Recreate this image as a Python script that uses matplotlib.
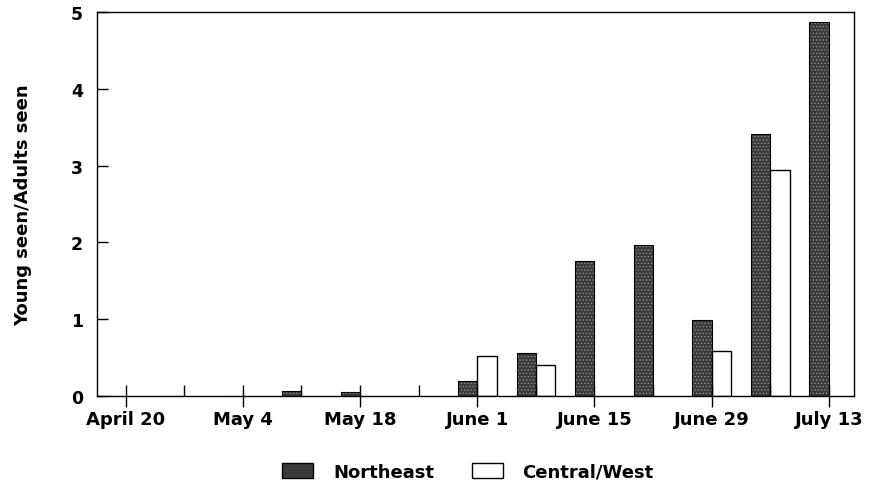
import matplotlib
matplotlib.use("Agg")
import matplotlib.pyplot as plt
from matplotlib.patches import Patch
import numpy as np

weeks = ["April 20", "April 27", "May 4", "May 11", "May 18", "May 25", "June 1",
         "June 8", "June 15", "June 22", "June 29", "July 6", "July 13"]
northeast = [0, 0, 0, 0.07, 0.05, 0, 0.20, 0.56, 1.76, 1.96, 0.99, 3.41, 4.87]
central_west = [0, 0, 0, 0, 0, 0, 0.52, 0.40, 0, 0, 0.58, 2.94, 0]
tick_labels = ["April 20", "May 4", "May 18", "June 1", "June 15", "June 29", "July 13"]

plt.rcParams['font.family'] = ['DejaVu Sans']
plt.rcParams['hatch.linewidth'] = 0.6

fig = plt.figure(figsize=(8.7, 5.02), dpi=100)
ax = fig.add_axes([0.1115, 0.2092, 0.8701, 0.7649])

x = np.arange(len(weeks))
w = 0.33
dark = '#3a3a3a'
ne = np.array(northeast)
cw = np.array(central_west)
ax.bar(x - w / 2, ne, width=w, color=dark, edgecolor='#8c8c8c', linewidth=0,
       hatch='.....')
ax.bar(x - w / 2, ne, width=w, fill=False, edgecolor='black', linewidth=0.8)
ax.bar(x[cw > 0] + w / 2, cw[cw > 0], width=w, color='white', edgecolor='black',
       linewidth=1.0)

ax.set_xlim(-0.49, 12.43)
ax.set_ylim(0, 5)
ax.set_xticks(x[::2])
ax.set_xticklabels(tick_labels)
ax.set_xticks(x[1::2], minor=True)
ax.set_yticks([0, 1, 2, 3, 4, 5])
ax.tick_params(axis='x', which='major', direction='inout', length=16, width=1,
               labelsize=13, pad=2)
ax.tick_params(axis='x', which='minor', direction='in', length=8, width=1)
ax.tick_params(axis='y', direction='in', length=8, width=1, labelsize=12.5, pad=10)
for lab in ax.get_xticklabels() + ax.get_yticklabels():
    lab.set_fontweight('bold')
for s in ax.spines.values():
    s.set_linewidth(1.0)

ax.set_ylabel("Young seen/Adults seen", fontsize=13, fontweight='bold', labelpad=28)

handles = [Patch(facecolor=dark, edgecolor='black', label='Northeast'),
           Patch(facecolor='white', edgecolor='black', label='Central/West')]
leg = fig.legend(handles=handles, loc='center', bbox_to_anchor=(0.538, 0.058), ncol=2,
                 frameon=False, fontsize=13, handlelength=1.7, handleheight=0.85,
                 columnspacing=2.1, handletextpad=1.1)
for t in leg.get_texts():
    t.set_fontweight('bold')

fig.savefig("out.png", dpi=100)
